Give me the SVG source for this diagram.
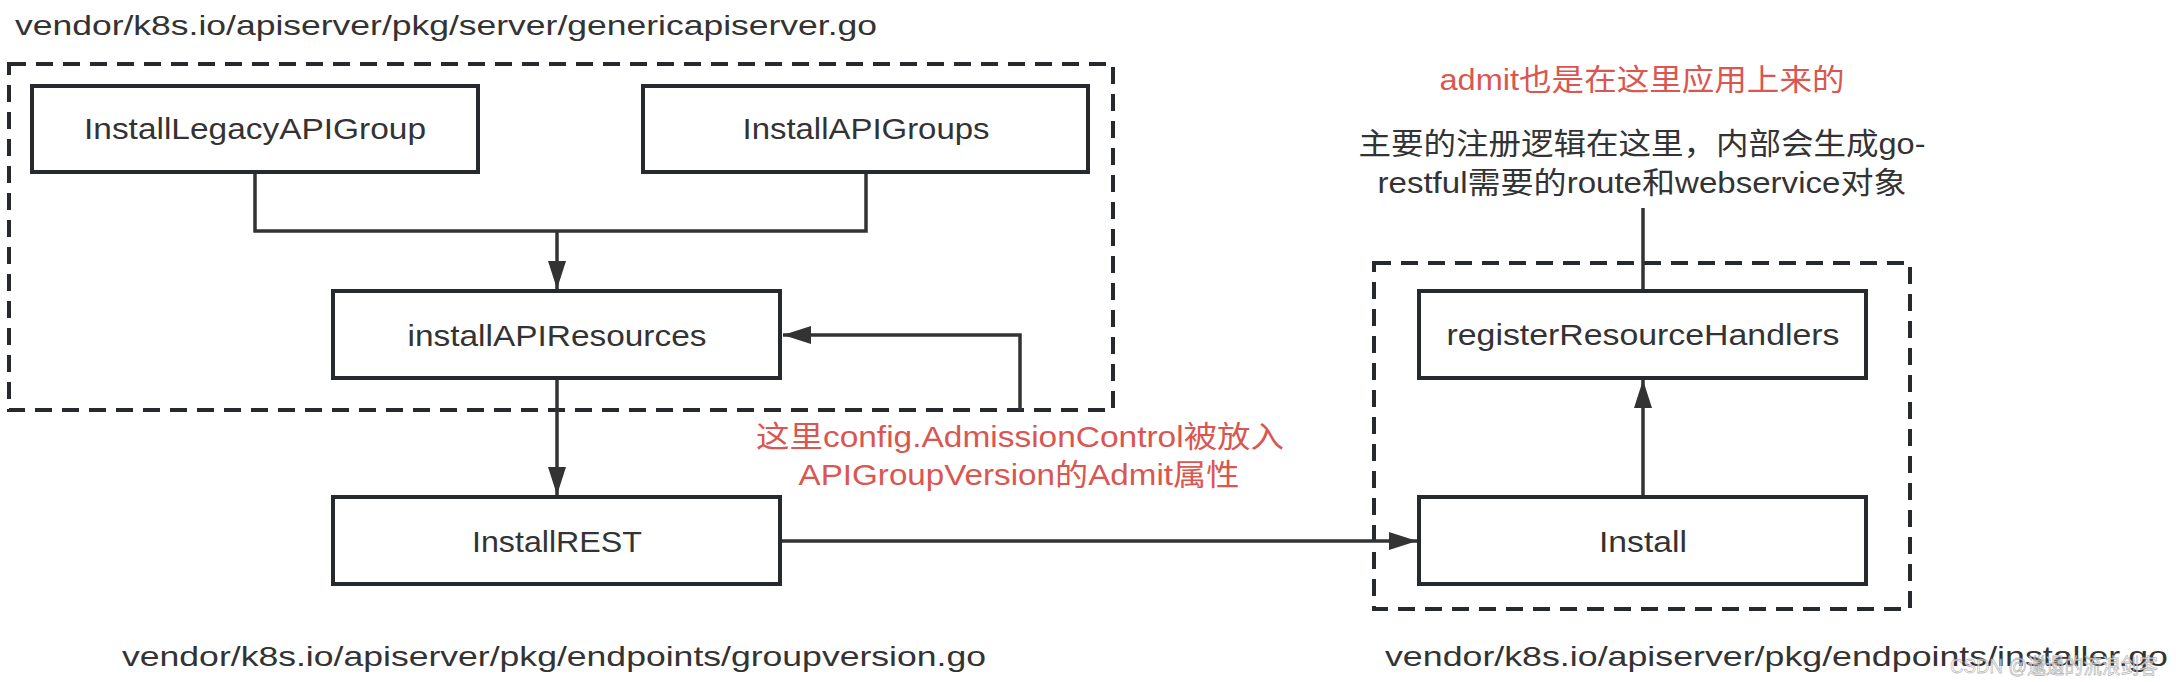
<svg xmlns="http://www.w3.org/2000/svg" width="2176" height="682" viewBox="0 0 2176 682">
  <style>
    .t { font-family: "Liberation Sans", "Noto Sans CJK SC", sans-serif; fill: #333333; }
    .box { fill: #ffffff; stroke: #262a2f; stroke-width: 4; }
    .dash { fill: none; stroke: #262a2f; stroke-width: 4; stroke-dasharray: 17 10; }
    .conn { fill: none; stroke: #333333; stroke-width: 3.5; }
    .red { fill: #da5650; }
    .lbl { font-size: 30px; text-anchor: middle; }
    .path { font-size: 28px; }
  </style>
  <defs>
    <marker id="arr" viewBox="0 0 28 18" refX="28" refY="9" markerWidth="28" markerHeight="18" markerUnits="userSpaceOnUse" orient="auto">
      <path d="M0,0 L28,9 L0,18 Z" fill="#333333"/>
    </marker>
  </defs>

  <rect fill="#ffffff" x="0" y="0" width="2176" height="682"/>

  <!-- group frames -->
  <g id="frame-genericapiserver">
    <rect class="dash" x="9" y="64" width="1104" height="346"/>
    <text class="t path" x="15" y="35" textLength="862" lengthAdjust="spacingAndGlyphs">vendor/k8s.io/apiserver/pkg/server/genericapiserver.go</text>
  </g>
  <g id="frame-installer">
    <rect class="dash" x="1374" y="263" width="536" height="346"/>
    <text class="t path" x="1385" y="666" textLength="783" lengthAdjust="spacingAndGlyphs">vendor/k8s.io/apiserver/pkg/endpoints/installer.go</text>
  </g>
  <g id="label-groupversion">
    <text class="t path" x="122" y="666" textLength="864" lengthAdjust="spacingAndGlyphs">vendor/k8s.io/apiserver/pkg/endpoints/groupversion.go</text>
  </g>

  <!-- connectors -->
  <g id="connectors">
    <path class="conn" d="M255,173 V231 H866 V173"/>
    <path class="conn" d="M557,231 V289" marker-end="url(#arr)"/>
    <path class="conn" d="M557,379 V495" marker-end="url(#arr)"/>
    <path class="conn" d="M1020,410 V335 H783" marker-end="url(#arr)"/>
    <path class="conn" d="M781,541 H1417" marker-end="url(#arr)"/>
    <path class="conn" d="M1643,495 V380" marker-end="url(#arr)"/>
    <path class="conn" d="M1643,289 V208"/>
  </g>

  <!-- nodes -->
  <g id="InstallLegacyAPIGroup">
    <rect class="box" x="32" y="86" width="446" height="86"/>
    <text class="t lbl" x="255" y="139" textLength="342" lengthAdjust="spacingAndGlyphs">InstallLegacyAPIGroup</text>
  </g>
  <g id="InstallAPIGroups">
    <rect class="box" x="643" y="86" width="445" height="86"/>
    <text class="t lbl" x="866" y="139" textLength="247" lengthAdjust="spacingAndGlyphs">InstallAPIGroups</text>
  </g>
  <g id="installAPIResources">
    <rect class="box" x="333" y="291" width="447" height="87"/>
    <text class="t lbl" x="557" y="346" textLength="299" lengthAdjust="spacingAndGlyphs">installAPIResources</text>
  </g>
  <g id="InstallREST">
    <rect class="box" x="333" y="497" width="447" height="87"/>
    <text class="t lbl" x="557" y="552" textLength="170" lengthAdjust="spacingAndGlyphs">InstallREST</text>
  </g>
  <g id="registerResourceHandlers">
    <rect class="box" x="1419" y="291" width="447" height="87"/>
    <text class="t lbl" x="1643" y="345" textLength="393" lengthAdjust="spacingAndGlyphs">registerResourceHandlers</text>
  </g>
  <g id="Install">
    <rect class="box" x="1419" y="497" width="447" height="87"/>
    <text class="t lbl" x="1643" y="552" textLength="88" lengthAdjust="spacingAndGlyphs">Install</text>
  </g>

  <!-- annotations -->
  <g id="note-admission">
    <text class="t lbl red" x="1020" y="447" textLength="528" lengthAdjust="spacingAndGlyphs">这里config.AdmissionControl被放入</text>
    <text class="t lbl red" x="1019" y="485" textLength="441" lengthAdjust="spacingAndGlyphs">APIGroupVersion的Admit属性</text>
  </g>
  <g id="note-admit">
    <text class="t lbl red" x="1642" y="90" textLength="405" lengthAdjust="spacingAndGlyphs">admit也是在这里应用上来的</text>
  </g>
  <g id="note-register">
    <text class="t lbl" x="1642" y="154" textLength="567" lengthAdjust="spacingAndGlyphs">主要的注册逻辑在这里，内部会生成go-</text>
    <text class="t lbl" x="1642" y="193" textLength="529" lengthAdjust="spacingAndGlyphs">restful需要的route和webservice对象</text>
  </g>

  <g id="watermark">
    <text x="1950" y="673" font-family="Liberation Sans, Noto Sans CJK SC, sans-serif" font-size="21" textLength="208" lengthAdjust="spacingAndGlyphs" fill="#ffffff" fill-opacity="0.7" stroke="#8a8a8a" stroke-opacity="0.6" stroke-width="0.8">CSDN @邋遢的流浪剑客</text>
  </g>
</svg>
